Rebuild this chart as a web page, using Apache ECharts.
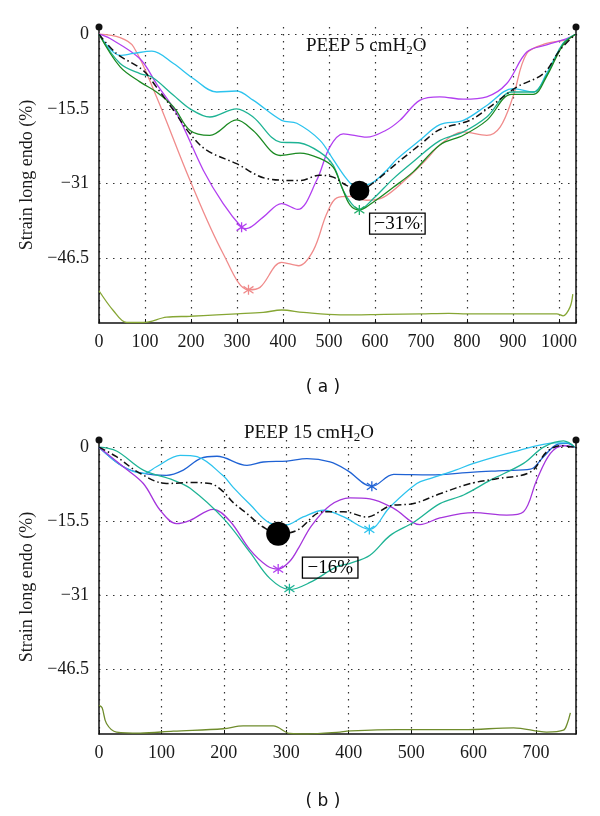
<!DOCTYPE html>
<html><head><meta charset="utf-8">
<script src="https://cdn.jsdelivr.net/npm/echarts@6/dist/echarts.min.js"></script>
<style>html,body{margin:0;padding:0;background:#fff}#c{width:600px;height:816px}</style>
</head><body><div id="c"></div>
<script>
// ---------- tick labels ----------
const yTickValues = [0, -15.5, -31, -46.5];
const xTickStep = 100;

// ---------- panel (a) PEEP 5 ----------
const aCyanX = [0,46,75,115,162,205,256,299,335,397,430,480,509,538,556,589,625,647,698,741,792,843,900,944,973,1009,1036];
const aCyanY = [0,-4.4,-4.0,-3.5,-6.1,-9.2,-12.0,-11.8,-13.7,-17.9,-18.5,-22.0,-26.0,-30.0,-31.5,-31.1,-28.3,-26.0,-22.0,-18.8,-17.9,-14.8,-11.3,-12.0,-8.2,-1.9,0];
const aTealX = [0,46,89,115,162,198,241,299,335,394,437,480,509,531,549,566,596,640,683,741,792,843,897,944,973,1009,1036];
const aTealY = [0,-6.1,-8.2,-8.9,-12.7,-15.5,-17.2,-15.5,-17.2,-22.4,-22.6,-24.5,-27.2,-32.5,-35.2,-36.4,-34.2,-30.0,-26.5,-22.1,-20.3,-17.2,-12.0,-12.0,-8.5,-1.9,0];
const aGreenX = [0,46,89,125,162,198,241,299,335,394,437,480,509,528,546,566,596,640,683,741,792,843,897,944,973,1009,1036];
const aGreenY = [0,-6.8,-9.9,-12.0,-15.1,-20.0,-21.0,-17.8,-20.0,-25.2,-24.7,-25.8,-27.6,-31.8,-35.5,-36.5,-34.9,-31.8,-28.6,-23.0,-21.0,-17.9,-12.5,-12.5,-8.8,-2.2,0];
const aMagentaX = [0,24,89,125,169,227,270,310,320,357,397,432,473,502,531,582,625,654,698,741,792,843,886,930,973,1017,1036];
const aMagentaY = [0,-0.9,-5.1,-10.3,-16.5,-28.3,-35.2,-40.1,-40.4,-38.0,-35.2,-36.4,-30.4,-23.4,-20.7,-21.4,-19.9,-17.9,-13.7,-13.0,-13.5,-13.0,-10.3,-3.7,-2.2,-0.9,0];
const aSalmonX = [0,46,75,125,198,270,325,350,397,434,466,495,517,546,582,618,669,712,741,792,843,872,900,930,973,1017,1036];
const aSalmonY = [0,-0.7,-2.6,-13.0,-30.4,-45.6,-53.1,-52.6,-47.4,-48.1,-44.9,-37.3,-34.0,-33.7,-34.5,-33.9,-30.0,-26.0,-23.0,-20.3,-21.0,-19.3,-13.0,-4.0,-1.9,-1.1,0];
const aMeanX = [0,38,96,125,162,198,234,299,365,437,480,509,538,566,593,654,700,741,806,850,908,966,1002,1036];
const aMeanY = [0,-4.0,-7.5,-11.0,-15.8,-20.7,-24.1,-26.9,-30.0,-30.4,-29.3,-29.7,-31.4,-32.5,-31.1,-26.3,-22.8,-19.8,-17.9,-15.1,-11.0,-8.2,-3.3,0];
const aOliveX = [0,31,60,96,147,198,256,299,357,397,444,524,620,700,760,800,900,995,1009,1024,1030];
const aOliveY = [-53.3,-57.4,-59.9,-59.9,-58.8,-58.6,-58.3,-58.1,-57.8,-57.3,-57.8,-58.3,-58.2,-58.1,-58.0,-58.1,-58.1,-58.1,-58.5,-56.7,-54.0];
const aStarX = [310,325,566];
const aStarY = [-40.1,-53.1,-36.5];
const aPeakX = [566];
const aPeakY = [-32.5];
const aPeakLabel = '−31%';

// ---------- panel (b) PEEP 15 ----------
const bBlueX = [0,39,71,108,135,162,189,237,263,301,333,370,397,437,472,530,600,648,691,712,734,750,762];
const bBlueY = [0,-4.1,-5.5,-5.9,-4.8,-2.4,-1.9,-3.8,-3.1,-2.9,-2.4,-3.1,-4.8,-8.2,-5.7,-5.8,-5.2,-4.9,-4.6,-2.0,0.6,0.8,0];
const bCyanX = [0,39,71,92,130,157,199,215,242,274,298,327,360,392,433,466,509,530,571,600,664,733,750,762];
const bCyanY = [0,-4.1,-5.5,-4.1,-1.7,-2.0,-6.0,-8.4,-12.0,-15.9,-16.3,-14.6,-13.2,-14.6,-17.2,-12.5,-7.6,-6.6,-4.8,-3.4,-1.0,0.9,0.9,0];
const bTealX = [0,28,71,119,146,200,242,274,305,338,381,402,434,466,504,546,584,627,680,712,744,762];
const bTealY = [0,-0.8,-4.8,-6.9,-8.6,-15.0,-22.0,-27.5,-29.8,-28.3,-25.0,-24.3,-22.6,-18.5,-15.7,-11.8,-10.0,-6.9,-3.4,0,1.3,0];
const bMagentaX = [0,39,71,98,124,146,183,210,242,269,287,306,320,340,370,402,434,472,514,546,600,653,680,701,723,744,762];
const bMagentaY = [0,-4.1,-7.6,-13.2,-16.0,-15.3,-13.0,-15.5,-21.5,-24.8,-25.5,-23.8,-21.0,-16.5,-12.2,-10.6,-10.8,-12.8,-16.2,-14.8,-13.7,-14.2,-13.5,-6.9,-1.3,0.3,0];
const bMeanX = [0,28,66,108,146,178,199,215,237,263,287,317,359,392,429,466,504,547,595,637,691,717,739,762];
const bMeanY = [0,-2.0,-5.5,-7.6,-7.4,-7.6,-9.3,-11.6,-13.9,-16.7,-18.1,-17.4,-13.5,-13.5,-14.6,-12.3,-11.8,-9.7,-7.6,-6.6,-5.2,-1.0,0.3,0];
const bOliveX = [0,5,12,28,66,119,199,231,279,306,333,386,397,477,584,664,717,744,750,755];
const bOliveY = [-54.0,-54.5,-57.8,-59.6,-59.8,-59.4,-58.9,-58.3,-58.3,-59.9,-60,-59.6,-59.4,-59.1,-59.1,-58.7,-59.6,-59.2,-57.8,-55.6];
const bStarX = [287,305,433,437];
const bStarY = [-25.5,-29.6,-17.2,-8.2];
const bPeakX = [287];
const bPeakY = [-18.1];
const bPeakLabel = '−16%';

// ---------- styles ----------
const C = {
  cyan:'#2cc3ee', teal:'#1eb394', green:'#1b8a22', magenta:'#b23ff0', salmon:'#f08b8b',
  olive:'#86a634', blue:'#1f62d4', mean:'#111'
};
const aStarColors = [C.magenta, C.salmon, '#1fae6a'];
const bStarColors = [C.magenta, C.teal, C.cyan, C.blue];
const SERIF = 'Liberation Serif';
const STAR = 'path://M5,0L5,10M1,1.6L9,8.4M1,8.4L9,1.6';

function pairs(xs, ys){ return xs.map((x,i)=>[x, ys[i]]); }
function line(name, xs, ys, color, gi, opt){
  return Object.assign({
    type:'line', name, xAxisIndex:gi, yAxisIndex:gi*2, data:pairs(xs,ys),
    smooth:0.35, showSymbol:false, symbol:'none', silent:true,
    lineStyle:{color, width:1.3}
  }, opt||{});
}
function stars(xs, ys, colors, gi){
  return {type:'scatter', xAxisIndex:gi, yAxisIndex:gi*2, symbol:STAR, symbolSize:10, z:5,
    data: xs.map((x,i)=>({value:[x, ys[i]], itemStyle:{color:'rgba(0,0,0,0)', borderColor:colors[i], borderWidth:1.3, opacity:1}}))};
}
function peak(xs, ys, text, gi, size, offset){
  return {type:'scatter', xAxisIndex:gi, yAxisIndex:gi*2, symbol:'circle', symbolSize:size, z:6,
    itemStyle:{color:'#000', opacity:1},
    label:{show:true, formatter:text, position:'inside', offset, fontFamily:SERIF, fontSize:19, color:'#000',
      borderColor:'#000', borderWidth:1.3, padding:[2,5,0,5]},
    data: xs.map((x,i)=>[x, ys[i]])};
}
function xAxis(gi, max){
  return {type:'value', gridIndex:gi, min:0, max, interval:xTickStep,
    axisLine:{show:true, onZero:false, lineStyle:{color:'#111', width:1.5}},
    axisTick:{show:true, inside:true, length:4, lineStyle:{color:'#111'}},
    axisLabel:{fontFamily:SERIF, fontSize:18, color:'#1a1a1a', margin:10,
      formatter:v=> (v % xTickStep === 0 ? String(v) : '')},
    splitLine:{show:true, lineStyle:{type:[1.5,5.5], color:'#333', width:1.2}}};
}
function yAxes(gi){
  const base = {type:'value', gridIndex:gi, min:-60, max:1.5};
  return [
    Object.assign({}, base, {position:'left',
      name:'Strain long endo (%)', nameLocation:'middle', nameGap:60,
      nameTextStyle:{fontFamily:SERIF, fontSize:18, color:'#1a1a1a'},
      axisLine:{show:true, lineStyle:{color:'#111', width:1.5}, symbol:['none','circle'], symbolSize:[7,7]},
      axisTick:{show:false, customValues:yTickValues},
      axisLabel:{customValues:yTickValues, fontFamily:SERIF, fontSize:18, color:'#1a1a1a', margin:10,
        formatter:v=> v===0 ? '0' : '−'+Math.abs(v)},
      splitLine:{show:true, lineStyle:{type:[1.5,5.5], color:'#333', width:1.2}}}),
    Object.assign({}, base, {position:'right',
      axisLine:{show:true, lineStyle:{color:'#111', width:1.5}, symbol:['none','circle'], symbolSize:[7,7]},
      axisTick:{show:false}, axisLabel:{show:false}, splitLine:{show:false}})
  ];
}

const chart = echarts.init(document.getElementById('c'), null, {renderer:'canvas'});
chart.setOption({
  animation:false,
  backgroundColor:'#fff',
  grid:[
    {left:99, top:27, width:477, height:296},
    {left:99, top:440, width:477, height:294}
  ],
  xAxis:[xAxis(0,1037), xAxis(1,764)],
  yAxis:[...yAxes(0), ...yAxes(1)],
  graphic:[
    {type:'text', x:306, y:35, style:{text:'PEEP 5 cmH{s|2}O', fontFamily:SERIF, fontSize:19, fill:'#111',
      rich:{s:{fontFamily:SERIF, fontSize:13, padding:[9,0,0,0]}}}},
    {type:'text', x:244, y:422, style:{text:'PEEP 15 cmH{s|2}O', fontFamily:SERIF, fontSize:19, fill:'#111',
      rich:{s:{fontFamily:SERIF, fontSize:13, padding:[9,0,0,0]}}}},
    {type:'text', x:323, y:388, style:{text:'( a )', fontFamily:'DejaVu Sans', fontSize:17, fill:'#111', align:'center', verticalAlign:'middle'}},
    {type:'text', x:323, y:802, style:{text:'( b )', fontFamily:'DejaVu Sans', fontSize:17, fill:'#111', align:'center', verticalAlign:'middle'}}
  ],
  series:[
    line('olive a', aOliveX, aOliveY, C.olive, 0),
    line('salmon a', aSalmonX, aSalmonY, C.salmon, 0),
    line('magenta a', aMagentaX, aMagentaY, C.magenta, 0),
    line('cyan a', aCyanX, aCyanY, C.cyan, 0),
    line('teal a', aTealX, aTealY, C.teal, 0),
    line('green a', aGreenX, aGreenY, C.green, 0),
    line('mean a', aMeanX, aMeanY, C.mean, 0, {lineStyle:{color:C.mean, width:1.5, type:[7,3,1.5,3]}}),
    stars(aStarX, aStarY, aStarColors, 0),
    peak(aPeakX, aPeakY, aPeakLabel, 0, 20, [38,33]),

    line('olive b', bOliveX, bOliveY, '#6f8c2c', 1),
    line('blue b', bBlueX, bBlueY, C.blue, 1),
    line('cyan b', bCyanX, bCyanY, C.cyan, 1),
    line('magenta b', bMagentaX, bMagentaY, '#a535dc', 1),
    line('teal b', bTealX, bTealY, C.teal, 1),
    line('mean b', bMeanX, bMeanY, C.mean, 1, {lineStyle:{color:C.mean, width:1.5, type:[7,3,1.5,3]}}),
    stars(bStarX, bStarY, bStarColors, 1),
    peak(bPeakX, bPeakY, bPeakLabel, 1, 24, [52,34])
  ]
});
</script></body></html>
